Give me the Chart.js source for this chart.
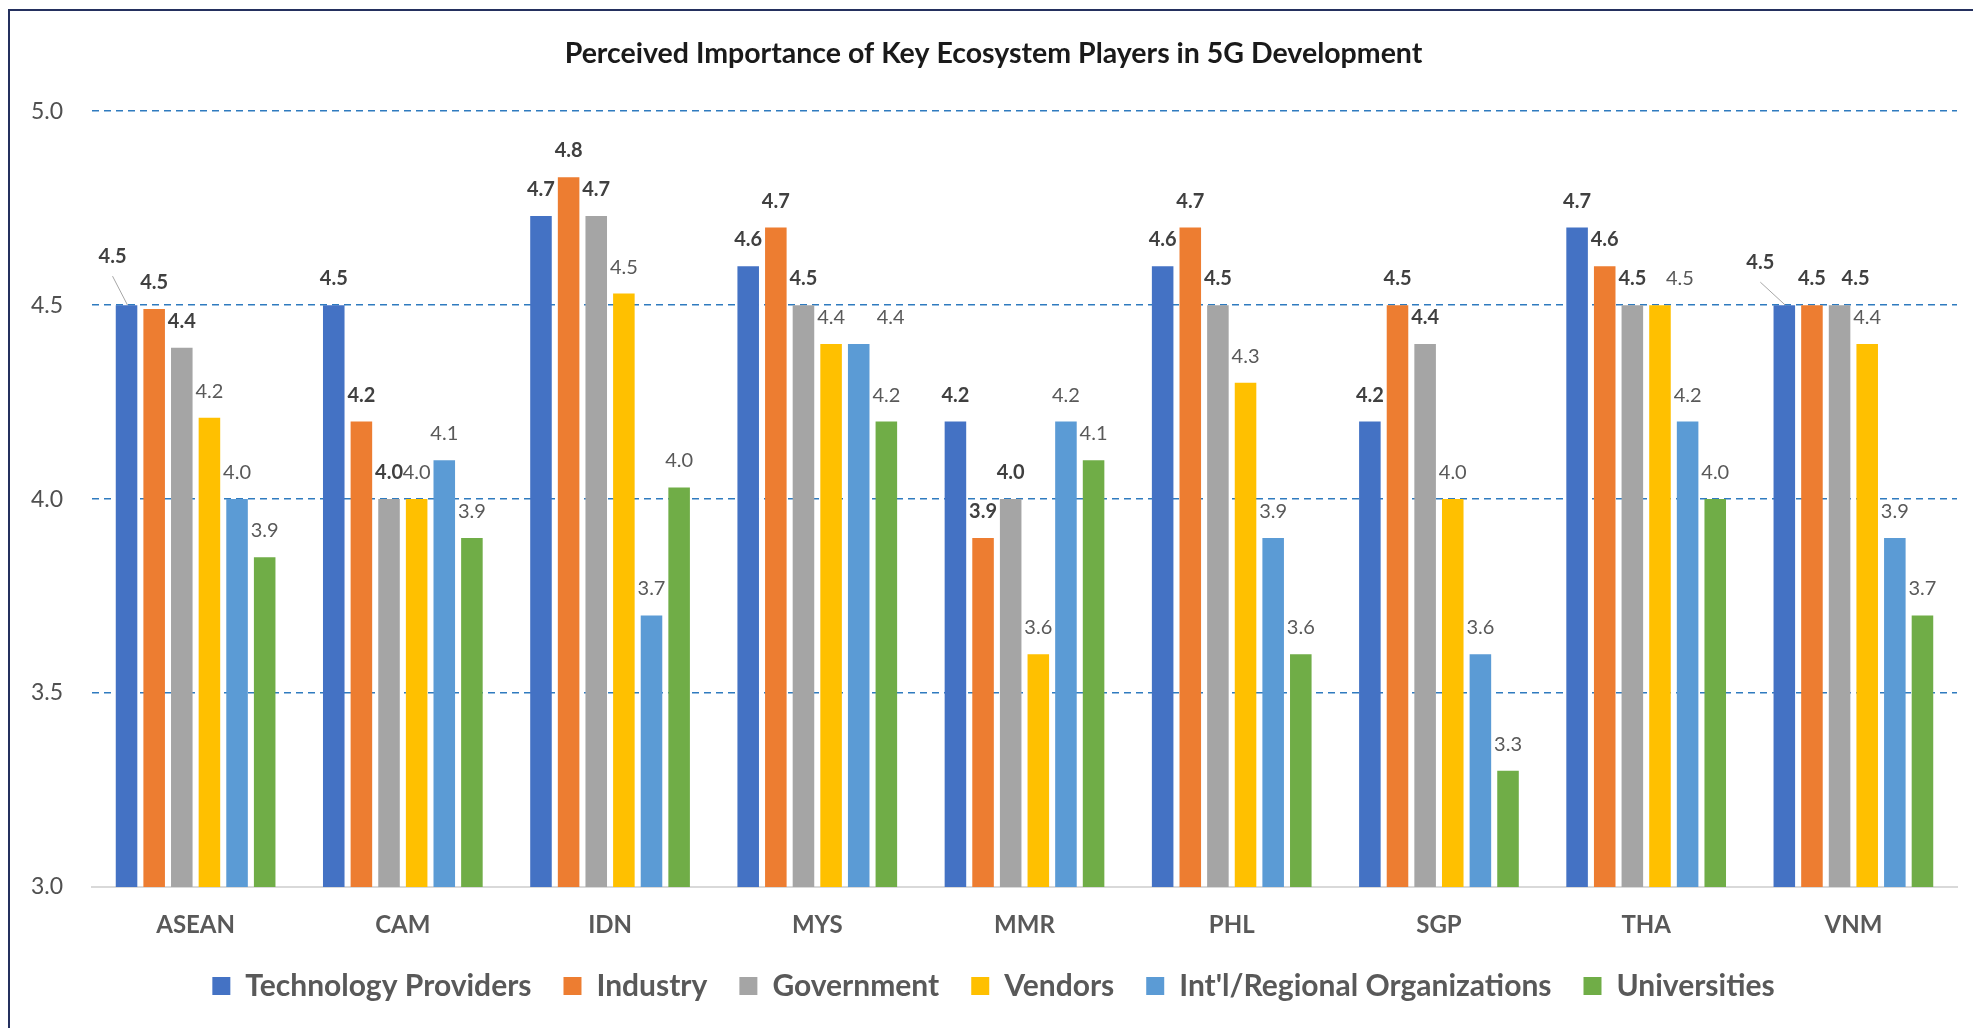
<!DOCTYPE html>
<html>
<head>
<meta charset="utf-8">
<title>Perceived Importance of Key Ecosystem Players in 5G Development</title>
<script src="https://cdn.jsdelivr.net/npm/chart.js@4.4.1/dist/chart.umd.min.js"></script>
<style>
  html, body { margin: 0; padding: 0; background: #fff; overflow: hidden; }
  #frame { position: absolute; left: 8px; top: 9px; width: 2000px; height: 1100px;
           border-top: 2px solid #24305e; border-left: 2px solid #24305e; }
  #wrap { position: absolute; left: 0; top: 0; width: 1973px; height: 1028px; }
</style>
</head>
<body>
<div id="frame"></div>
<div id="wrap"><canvas id="chart"></canvas></div>
<script>
const categories = ['ASEAN', 'CAM', 'IDN', 'MYS', 'MMR', 'PHL', 'SGP', 'THA', 'VNM'];
const seriesNames = ['Technology Providers', 'Industry', 'Government', 'Vendors',
  "Int'l/Regional Organizations", 'Universities'];

const techProviders = [4.50, 4.50, 4.73, 4.60, 4.20, 4.60, 4.20, 4.70, 4.50];
const industry      = [4.49, 4.20, 4.83, 4.70, 3.90, 4.70, 4.50, 4.60, 4.50];
const government    = [4.39, 4.00, 4.73, 4.50, 4.00, 4.50, 4.40, 4.50, 4.50];
const vendors       = [4.21, 4.00, 4.53, 4.40, 3.60, 4.30, 4.00, 4.50, 4.40];
const intlOrgs      = [4.00, 4.10, 3.70, 4.40, 4.20, 3.90, 3.60, 4.20, 3.90];
const universities  = [3.85, 3.90, 4.03, 4.20, 4.10, 3.60, 3.30, 4.00, 3.70];

const yMin = 3.0;
const yMax = 5.0;
const yStep = 0.5;

const colors = ['#4472C4', '#ED7D31', '#A5A5A5', '#FFC000', '#5B9BD5', '#70AD47'];
const allSeries = [techProviders, industry, government, vendors, intlOrgs, universities];

// hand-moved labels, keyed 'dataset:index' -> [dx, dy, leader line?]
const labelNudge = {
  '0:0': [-14, -22, true],
  '0:8': [-24, -16, true],
  '4:3': [32, 0],
  '3:7': [20, 0],
  '2:8': [16, 0],
};

const valueLabels = {
  id: 'valueLabels',
  afterDatasetsDraw(chart) {
    const ctx = chart.ctx;
    ctx.save();
    ctx.textAlign = 'center';
    ctx.textBaseline = 'alphabetic';
    chart.data.datasets.forEach((ds, di) => {
      const meta = chart.getDatasetMeta(di);
      meta.data.forEach((bar, i) => {
        const nudge = labelNudge[di + ':' + i] || [0, 0];
        const x = bar.x + nudge[0];
        const y = bar.y - 20 + nudge[1];
        if (nudge[2]) {
          ctx.strokeStyle = '#a6a6a6';
          ctx.lineWidth = 1;
          ctx.beginPath();
          ctx.moveTo(x, y + 13);
          ctx.lineTo(bar.x + 1, bar.y);
          ctx.stroke();
        }
        ctx.font = (ds.labelBold ? 'bold ' : '') + '20px Lato';
        ctx.fillStyle = ds.labelBold ? '#404040' : '#595959';
        ctx.fillText(ds.data[i].toFixed(1), x, y);
      });
    });
    ctx.restore();
  }
};

const datasets = allSeries.map((values, i) => ({
  label: seriesNames[i],
  data: values,
  backgroundColor: colors[i],
  borderWidth: 0,
  categoryPercentage: 0.8,
  barPercentage: 0.78,
  labelBold: i < 3,
}));

new Chart(document.getElementById('chart'), {
  type: 'bar',
  data: {
    labels: categories,
    datasets: datasets,
  },
  plugins: [valueLabels],
  options: {
    responsive: true,
    maintainAspectRatio: false,
    animation: false,
    layout: {
      padding: { left: 30, right: 16, top: 0, bottom: 17 },
    },
    plugins: {
      title: {
        display: true,
        text: 'Perceived Importance of Key Ecosystem Players in 5G Development',
        color: '#1a1a1a',
        font: { family: 'Lato', size: 28.5, weight: 'bold' },
        padding: { top: 37, bottom: 40 },
      },
      legend: {
        position: 'bottom',
        labels: {
          boxWidth: 18,
          boxHeight: 18,
          padding: 32,
          color: '#595959',
          font: { family: 'Lato', size: 30, weight: 'bold' },
        },
      },
      tooltip: { enabled: false },
    },
    scales: {
      x: {
        grid: { display: false, drawTicks: false },
        border: { display: true, color: '#d9d9d9', width: 2 },
        ticks: {
          color: '#595959',
          padding: 24,
          font: { family: 'Lato', size: 24, weight: 'bold' },
        },
        afterFit(scale) { scale.height = 52; },
      },
      y: {
        min: yMin,
        max: yMax,
        ticks: {
          stepSize: yStep,
          color: '#505050',
          padding: 29,
          font: { family: 'Lato', size: 23 },
          callback: (v) => Number(v).toFixed(1),
        },
        grid: {
          drawTicks: false,
          lineWidth: 1.5,
          color: (c) => (c.tick && c.tick.value === yMin ? 'rgba(0,0,0,0)' : '#2f7bbf'),
        },
        border: { display: false, dash: [7, 5] },
        afterFit(scale) { scale.width = 62; },
      },
    },
  },
});
</script>
</body>
</html>
